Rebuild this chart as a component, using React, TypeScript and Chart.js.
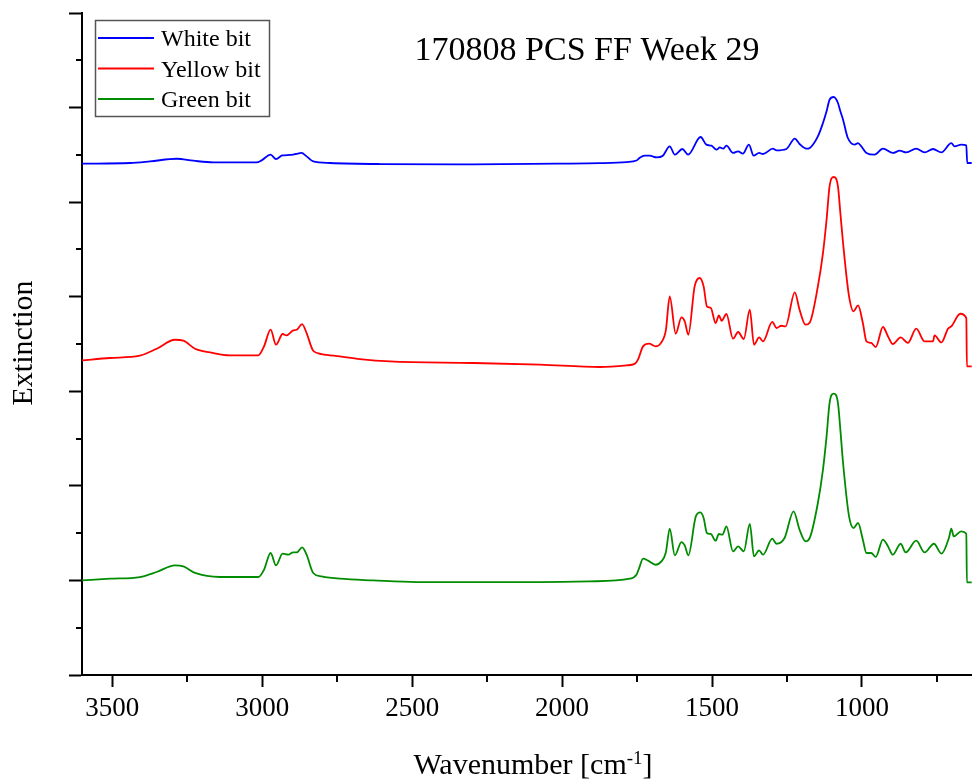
import { useEffect, useRef } from 'react';
import { Chart, registerables } from 'chart.js';

Chart.register(...registerables);

const FONT = "'Liberation Serif', 'Times New Roman', serif";

const chartTitle = '170808 PCS FF Week 29';
const xAxisTitle = 'Wavenumber [cm';
const xAxisTitleSup = '-1';
const xAxisTitleEnd = ']';
const yAxisTitle = 'Extinction';
const seriesLabels = ['White bit', 'Yellow bit', 'Green bit'];
const seriesColors = ['#0000FF', '#FF0000', '#008C00'];

// axis ranges (wavenumber runs high -> low, offset extinction units)
const xRange = [633, 3601];
const yRange = [0, 7];
const xTickValues = [3500, 3000, 2500, 2000, 1500, 1000];
const xMinorTickValues = [3250, 2750, 2250, 1750, 1250, 750];
const yTickValues = [0, 1, 2, 3, 4, 5, 6, 7];
const yMinorTickValues = [0.5, 1.5, 2.5, 3.5, 4.5, 5.5, 6.5];

const whiteWavenumber = [
  3601, 3441, 3374, 3285, 3230, 3163, 3019, 3002, 2972, 2954, 2933, 2908, 2888, 2869, 2852, 2830,
  2774, 2608, 2298, 2019, 1874, 1785, 1752, 1741, 1724, 1708, 1684, 1664, 1641, 1624, 1599, 1580,
  1538, 1519, 1502, 1485, 1474, 1463, 1452, 1430, 1413, 1397, 1377, 1361, 1343, 1330, 1297, 1285,
  1252, 1224, 1208, 1185, 1174, 1147, 1130, 1118, 1108, 1094, 1080, 1072, 1063, 1047, 1024, 1013,
  1002, 985, 958, 930, 897, 874, 852, 819, 791, 763, 735, 702, 691, 669, 652, 649, 634,
];
const whiteExtinction = [
  5.407, 5.414, 5.431, 5.459, 5.438, 5.420, 5.420, 5.442, 5.502, 5.456, 5.494, 5.499, 5.509, 5.520, 5.484, 5.431,
  5.414, 5.403, 5.399, 5.407, 5.412, 5.424, 5.440, 5.470, 5.491, 5.491, 5.473, 5.491, 5.590, 5.502, 5.562, 5.502,
  5.689, 5.608, 5.597, 5.555, 5.579, 5.565, 5.597, 5.520, 5.537, 5.512, 5.608, 5.491, 5.520, 5.509, 5.565, 5.547,
  5.562, 5.671, 5.615, 5.565, 5.573, 5.695, 5.837, 5.960, 6.083, 6.112, 6.048, 5.960, 5.872, 5.678, 5.608, 5.625,
  5.590, 5.520, 5.502, 5.565, 5.520, 5.544, 5.526, 5.565, 5.526, 5.562, 5.526, 5.625, 5.590, 5.608, 5.600, 5.414, 5.414,
];

const yellowWavenumber = [
  3601, 3508, 3408, 3352, 3291, 3263, 3224, 3174, 3108, 3013, 2994, 2972, 2954, 2932, 2919, 2897,
  2885, 2867, 2852, 2830, 2802, 2741, 2674, 2574, 2297, 2074, 1874, 1785, 1758, 1747, 1730, 1710,
  1688, 1669, 1654, 1641, 1621, 1602, 1591, 1579, 1558, 1541, 1528, 1517, 1504, 1488, 1477, 1468,
  1452, 1430, 1413, 1394, 1374, 1360, 1343, 1330, 1299, 1285, 1269, 1255, 1224, 1208, 1188, 1174,
  1147, 1130, 1118, 1108, 1094, 1080, 1072, 1063, 1043, 1028, 1013, 997, 985, 969, 954, 930,
  913, 897, 871, 847, 819, 791, 763, 758, 735, 713, 702, 672, 652, 650, 634,
];
const yellowExtinction = [
  3.327, 3.352, 3.376, 3.450, 3.545, 3.535, 3.450, 3.411, 3.380, 3.380, 3.475, 3.651, 3.493, 3.606, 3.591, 3.644,
  3.651, 3.711, 3.616, 3.429, 3.394, 3.369, 3.341, 3.316, 3.299, 3.281, 3.257, 3.274, 3.290, 3.334, 3.475, 3.503,
  3.475, 3.517, 3.644, 4.003, 3.609, 3.781, 3.739, 3.598, 4.109, 4.198, 4.109, 3.898, 3.881, 3.722, 3.802, 3.746,
  3.817, 3.556, 3.627, 3.553, 3.863, 3.493, 3.570, 3.528, 3.733, 3.669, 3.693, 3.686, 4.046, 3.863, 3.704, 3.728,
  4.109, 4.462, 4.814, 5.167, 5.266, 5.167, 4.885, 4.568, 4.003, 3.845, 3.908, 3.722, 3.528, 3.511, 3.468, 3.680,
  3.580, 3.500, 3.570, 3.511, 3.662, 3.528, 3.528, 3.591, 3.517, 3.662, 3.686, 3.820, 3.775, 3.263, 3.263,
];

const greenWavenumber = [
  3601, 3508, 3408, 3352, 3291, 3263, 3224, 3141, 3013, 2994, 2972, 2954, 2932, 2913, 2897, 2885,
  2867, 2852, 2830, 2802, 2741, 2630, 2485, 2074, 1908, 1774, 1752, 1743, 1730, 1713, 1688, 1669,
  1654, 1641, 1624, 1602, 1591, 1579, 1554, 1539, 1528, 1517, 1504, 1488, 1477, 1465, 1452, 1430,
  1413, 1394, 1374, 1360, 1343, 1330, 1299, 1285, 1258, 1228, 1208, 1188, 1174, 1147, 1130, 1118,
  1108, 1094, 1080, 1072, 1063, 1043, 1028, 1013, 997, 985, 969, 954, 930, 913, 897, 871,
  854, 819, 791, 760, 735, 710, 702, 694, 669, 652, 650, 634,
];
const greenExtinction = [
  1.000, 1.018, 1.036, 1.089, 1.159, 1.148, 1.079, 1.036, 1.036, 1.113, 1.290, 1.159, 1.283, 1.272, 1.296, 1.296,
  1.349, 1.272, 1.079, 1.043, 1.018, 1.000, 0.983, 0.983, 0.990, 1.018, 1.061, 1.131, 1.230, 1.209, 1.166, 1.201,
  1.296, 1.547, 1.265, 1.406, 1.370, 1.265, 1.677, 1.719, 1.660, 1.502, 1.491, 1.420, 1.491, 1.484, 1.571, 1.307,
  1.360, 1.307, 1.597, 1.254, 1.318, 1.272, 1.441, 1.388, 1.449, 1.730, 1.536, 1.413, 1.449, 1.819, 2.171, 2.523,
  2.876, 2.975, 2.876, 2.594, 2.242, 1.677, 1.554, 1.607, 1.431, 1.290, 1.290, 1.248, 1.431, 1.360, 1.272, 1.388,
  1.296, 1.420, 1.296, 1.388, 1.283, 1.449, 1.547, 1.466, 1.519, 1.494, 0.979, 0.979,
];

const toPoints = (xs: number[], ys: number[]) => xs.map((x, i) => ({ x, y: ys[i] }));

// minor ticks, plot title, in-plot legend and axis titles (with superscript)
const annotationsPlugin = {
  id: 'spectrumAnnotations',
  afterDraw(chart: any) {
    const { ctx, scales, chartArea } = chart;
    const xs = scales.x;
    const ys = scales.y;
    ctx.save();

    // minor ticks
    ctx.strokeStyle = '#000';
    ctx.lineWidth = 2;
    ctx.beginPath();
    xMinorTickValues.forEach((v) => {
      const px = Math.round(xs.getPixelForValue(v));
      ctx.moveTo(px, chartArea.bottom);
      ctx.lineTo(px, chartArea.bottom + 7);
    });
    yMinorTickValues.forEach((v) => {
      const py = Math.round(ys.getPixelForValue(v));
      ctx.moveTo(chartArea.left - 6, py);
      ctx.lineTo(chartArea.left, py);
    });
    ctx.stroke();

    // title
    ctx.fillStyle = '#000';
    ctx.font = `34px ${FONT}`;
    ctx.textAlign = 'center';
    ctx.textBaseline = 'alphabetic';
    ctx.fillText(chartTitle, 587, 60);

    // legend
    ctx.strokeStyle = '#555';
    ctx.lineWidth = 1.5;
    ctx.strokeRect(95.5, 20.5, 174, 96);
    ctx.font = `24px ${FONT}`;
    ctx.textAlign = 'left';
    chart.data.datasets.forEach((ds: any, i: number) => {
      const y = 38 + i * 30.5;
      ctx.strokeStyle = ds.borderColor;
      ctx.lineWidth = 2;
      ctx.beginPath();
      ctx.moveTo(98, y);
      ctx.lineTo(154, y);
      ctx.stroke();
      ctx.fillStyle = '#000';
      ctx.fillText(ds.label, 161, y + 8);
    });

    // x axis title
    const mainFont = `30px ${FONT}`;
    const supFont = `19px ${FONT}`;
    ctx.font = mainFont;
    const wA = ctx.measureText(xAxisTitle).width;
    const wC = ctx.measureText(xAxisTitleEnd).width;
    ctx.font = supFont;
    const wB = ctx.measureText(xAxisTitleSup).width;
    let tx = 533 - (wA + wB + wC) / 2;
    const base = 774;
    ctx.font = mainFont;
    ctx.fillText(xAxisTitle, tx, base);
    tx += wA;
    ctx.font = supFont;
    ctx.fillText(xAxisTitleSup, tx, base - 10);
    tx += wB;
    ctx.font = mainFont;
    ctx.fillText(xAxisTitleEnd, tx, base);

    // y axis title
    ctx.translate(32, 343);
    ctx.rotate(-Math.PI / 2);
    ctx.textAlign = 'center';
    ctx.font = `30px ${FONT}`;
    ctx.fillText(yAxisTitle, 0, 0);

    ctx.restore();
  },
};

export default function App() {
  const canvasRef = useRef<HTMLCanvasElement | null>(null);

  useEffect(() => {
    const canvas = canvasRef.current;
    if (!canvas) return;
    const series = [
      toPoints(whiteWavenumber, whiteExtinction),
      toPoints(yellowWavenumber, yellowExtinction),
      toPoints(greenWavenumber, greenExtinction),
    ];
    const chart = new Chart(canvas, {
      type: 'line',
      data: {
        datasets: series.map((pts, i) => ({
          label: seriesLabels[i],
          data: pts,
          borderColor: seriesColors[i],
          backgroundColor: seriesColors[i],
          borderWidth: 1.8,
          pointRadius: 0,
          fill: false,
          cubicInterpolationMode: 'monotone' as const,
        })),
      },
      options: {
        animation: false,
        responsive: false,
        events: [],
        layout: { padding: { top: 13, right: 0, left: 0, bottom: 0 } },
        plugins: {
          legend: { display: false },
          title: { display: false },
          tooltip: { enabled: false },
        },
        scales: {
          x: {
            type: 'linear',
            reverse: true,
            min: xRange[0],
            max: xRange[1],
            afterBuildTicks: (scale: any) => {
              scale.ticks = xTickValues.map((value) => ({ value }));
            },
            afterFit: (scale: any) => {
              scale.height = 105;
            },
            ticks: {
              autoSkip: false,
              maxRotation: 0,
              padding: 6,
              color: '#000',
              font: { family: FONT, size: 27 },
              callback: (v: any) => String(v),
            },
            grid: {
              drawOnChartArea: false,
              drawTicks: true,
              tickLength: 12,
              tickWidth: 2,
              tickColor: '#000',
            },
            border: { display: true, color: '#000', width: 2 },
          },
          y: {
            type: 'linear',
            min: yRange[0],
            max: yRange[1],
            afterBuildTicks: (scale: any) => {
              scale.ticks = yTickValues.map((value) => ({ value }));
            },
            afterFit: (scale: any) => {
              scale.width = 82;
            },
            ticks: { display: false },
            grid: {
              drawOnChartArea: false,
              drawTicks: true,
              tickLength: 13,
              tickWidth: 2,
              tickColor: '#000',
            },
            border: { display: true, color: '#000', width: 2 },
          },
        },
      },
      plugins: [annotationsPlugin],
    });
    return () => chart.destroy();
  }, []);

  return (
    <div style={{ position: 'absolute', left: 0, top: 0, width: 972, height: 780, background: '#fff' }}>
      <canvas ref={canvasRef} width={972} height={780} style={{ display: 'block' }} />
    </div>
  );
}
